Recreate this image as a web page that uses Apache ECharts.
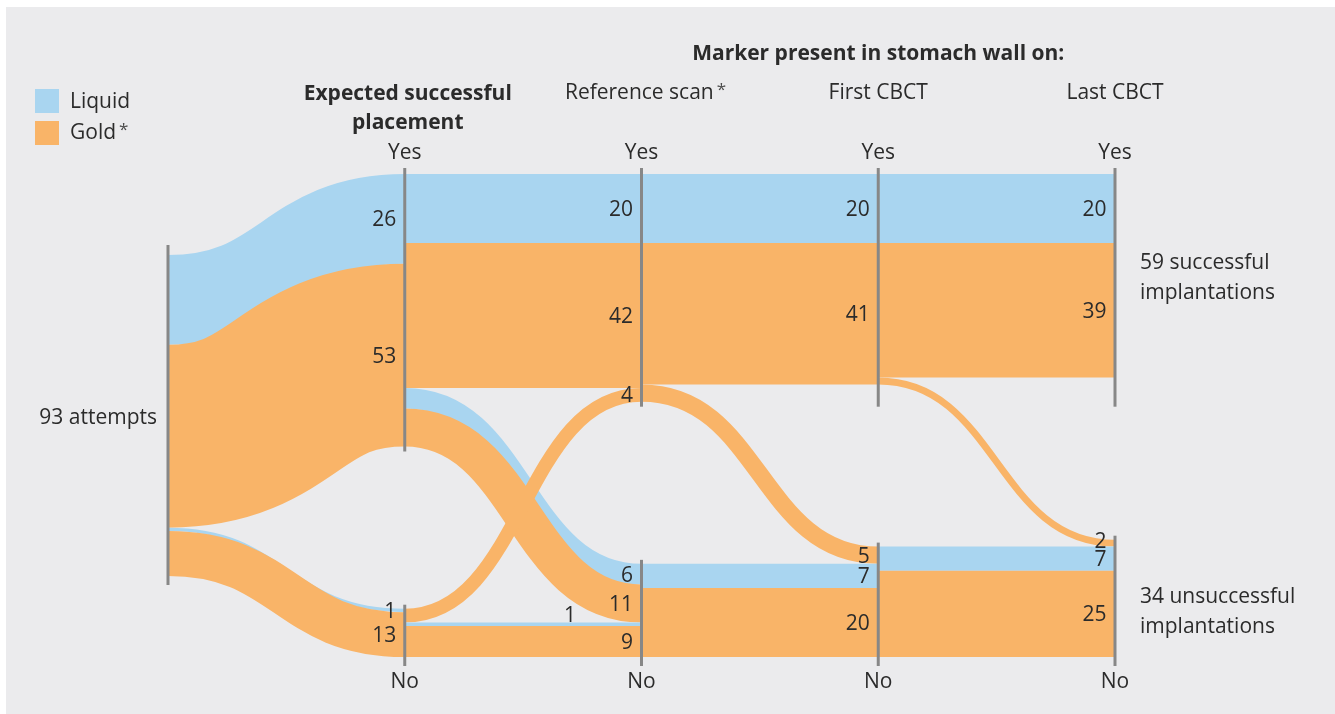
<!DOCTYPE html>
<html>
<head>
<meta charset="utf-8">
<script src="https://cdn.jsdelivr.net/npm/echarts@6/dist/echarts.min.js"></script>
<style>
html,body{margin:0;padding:0;background:#ffffff;}
#chart{width:1335px;height:714px;}
</style>
</head>
<body>
<div id="chart"></div>
<script>
// ---------------- DATA ----------------
const columnTitles = ['', 'Expected successful\nplacement', 'Reference scan', 'First CBCT', 'Last CBCT'];
const columnTitleStar = [false, false, true, false, false];
const groupTitle = 'Marker present in stomach wall on:';
const yesLabel = 'Yes';
const noLabel = 'No';
const types = ['Liquid', 'Gold'];
const typeStar = [false, true];

// nodes: 0 start, then Yes/No per column
const nodeNames  = ['Attempts', 'Expected Yes', 'Expected No', 'Reference Yes', 'Reference No', 'First Yes', 'First No', 'Last Yes', 'Last No'];
const nodeColumn = [0, 1, 1, 2, 2, 3, 3, 4, 4];
const nodeSide   = ['mid', 'yes', 'no', 'yes', 'no', 'yes', 'no', 'yes', 'no'];

// links (listed in stacking order, top to bottom at each node)
const linkSource = [0, 0, 0, 0, 1, 1, 1, 1, 2, 2, 2, 3, 3, 3, 4, 4, 5, 5, 5, 6, 6];
const linkTarget = [1, 1, 2, 2, 3, 3, 4, 4, 3, 4, 4, 5, 5, 6, 6, 6, 7, 7, 8, 8, 8];
const linkType   = [0, 1, 0, 1, 0, 1, 0, 1, 1, 0, 1, 0, 1, 1, 0, 1, 0, 1, 1, 0, 1];
const linkValue  = [26, 53, 1, 13, 20, 42, 6, 11, 4, 1, 9, 20, 41, 5, 7, 20, 20, 39, 2, 7, 25];

// ---------------- STYLE / LAYOUT ----------------
const SPAN = 140;               // vertical extent in value units
const typeColors = ['#a9d5f0', '#f9b468'];
const textColor = '#2b2b2b';
const lineColor = '#878787';
const FONT = '"Open Sans", "Noto Sans", sans-serif';
const FS = 21;
const TDY = 1.5;                // small downward text shift
const labelNudge = { 9: [-57, -9.5], 18: [0, -3] };
const starRich = { s: { fontSize: 17, fill: '#4a4a4a', verticalAlign: 'top', padding: [0, 0, 7, 3], fontFamily: FONT } };

// ---------------- LAYOUT COMPUTATION ----------------
const nIn = nodeNames.map(() => 0), nOut = nodeNames.map(() => 0);
linkValue.forEach((v, i) => { nOut[linkSource[i]] += v; nIn[linkTarget[i]] += v; });
const nodeVal = nodeNames.map((_, k) => Math.max(nIn[k], nOut[k]));
const nodeTop = nodeVal.map((v, k) => nodeSide[k] === 'yes' ? 0 : nodeSide[k] === 'no' ? SPAN - v : (SPAN - v) / 2);
const outTop = [], inTop = [];
const oc = nodeTop.slice(), ic = nodeTop.slice();
linkValue.forEach((v, i) => {
  outTop[i] = oc[linkSource[i]]; oc[linkSource[i]] += v;
  inTop[i] = ic[linkTarget[i]]; ic[linkTarget[i]] += v;
});
// crossing links get multiply blending
const crossing = linkValue.map(() => false);
for (let j = 0; j < linkValue.length; j++) {
  for (let i = 0; i < j; i++) {
    if (nodeColumn[linkSource[i]] !== nodeColumn[linkSource[j]]) continue;
    const a = outTop[i] < outTop[j], b = inTop[i] < inTop[j];
    if (a !== b) crossing[j] = true;
  }
}

function renderLink(params, api) {
  const i = params.dataIndex;
  const s = linkSource[i], t = linkTarget[i], v = linkValue[i];
  const p0 = api.coord([nodeColumn[s], outTop[i]]);
  const p0b = api.coord([nodeColumn[s], outTop[i] + v]);
  const p1 = api.coord([nodeColumn[t], inTop[i]]);
  const p1b = api.coord([nodeColumn[t], inTop[i] + v]);
  const w = p0b[1] - p0[1];
  const y0 = (p0[1] + p0b[1]) / 2, y1 = (p1[1] + p1b[1]) / 2;
  const mx = (p0[0] + p1[0]) / 2;
  return {
    type: 'bezierCurve',
    shape: { x1: p0[0], y1: y0, x2: p1[0], y2: y1, cpx1: mx, cpy1: y0, cpx2: mx, cpy2: y1 },
    style: { stroke: typeColors[linkType[i]], lineWidth: w, fill: 'none', lineCap: 'butt',
      blend: crossing[i] ? 'multiply' : 'source-over' }
  };
}

function yesBottomMax(api) {
  let m = 0;
  nodeNames.forEach((_, k) => {
    if (nodeSide[k] === 'yes' && nodeColumn[k] >= 2) m = Math.max(m, api.coord([0, nodeTop[k] + nodeVal[k]])[1]);
  });
  return m;
}

function txt(x, y, text, opt) {
  return { type: 'text', x: x, y: y + TDY,
    style: Object.assign({ text: text, fill: textColor, font: FS + 'px ' + FONT, align: 'left', verticalAlign: 'middle' }, opt || {}) };
}

function renderNode(params, api) {
  const k = params.dataIndex;
  const top = api.coord([nodeColumn[k], nodeTop[k]]);
  const bot = api.coord([nodeColumn[k], nodeTop[k] + nodeVal[k]]);
  let y0, y1;
  if (nodeSide[k] === 'mid') { y0 = top[1] - 10; y1 = bot[1] + 9; }
  else if (nodeSide[k] === 'yes') {
    y0 = top[1] - 6;
    y1 = nodeColumn[k] >= 2 ? yesBottomMax(api) + 5 : bot[1] + 5;
  } else { y0 = top[1] - 4; y1 = bot[1] + 9; }
  const children = [{
    type: 'line',
    shape: { x1: top[0], y1: y0, x2: top[0], y2: y1 },
    style: { stroke: lineColor, lineWidth: 3 }
  }];
  const mid = (top[1] + bot[1]) / 2;
  if (nodeSide[k] === 'mid') {
    children.push(txt(top[0] - 11, mid + 1.5, nodeVal[k] + ' attempts', { align: 'right' }));
  }
  if (nodeColumn[k] === 4) {
    const t = nodeSide[k] === 'yes' ? nodeVal[k] + ' successful\nimplantations' : nodeVal[k] + ' unsuccessful\nimplantations';
    const off = nodeSide[k] === 'yes' ? 1 : 12.5;
    children.push(txt(top[0] + 25, mid + off, t, { lineHeight: 30 }));
  }
  return { type: 'group', children };
}

function renderLinkLabel(params, api) {
  const i = params.dataIndex;
  const t = linkTarget[i], v = linkValue[i];
  const p = api.coord([nodeColumn[t], inTop[i] + v / 2]);
  const n = labelNudge[i] || [0, 0];
  return txt(p[0] - 8.5 + n[0], p[1] + n[1], String(v), { align: 'right' });
}

function renderColumn(params, api) {
  const c = params.dataIndex;
  const top = api.coord([c, 0]);
  const bot = api.coord([c, SPAN]);
  const children = [];
  if (c === 0) return { type: 'group', children };
  children.push(txt(top[0], top[1] - 22, yesLabel, { align: 'center' }));
  children.push(txt(top[0], bot[1] + 24, noLabel, { align: 'center' }));
  const title = columnTitles[c];
  if (c === 1) {
    children.push(txt(top[0] + 3, top[1] - 66.5, title, { align: 'center', font: 'bold ' + FS + 'px ' + FONT, lineHeight: 29 }));
  } else {
    children.push(txt(top[0] + (columnTitleStar[c] ? 4 : 0), top[1] - 82,
      title + (columnTitleStar[c] ? '{s|*}' : ''), { align: 'center', rich: starRich }));
  }
  if (c === 3) {
    children.push(txt(top[0], top[1] - 121, groupTitle, { align: 'center', font: 'bold ' + FS + 'px ' + FONT }));
  }
  return { type: 'group', children };
}

// legend graphics from types
const legendGraphics = [];
types.forEach((name, k) => {
  legendGraphics.push({ type: 'rect', zlevel: 0, z: 10, shape: { x: 35, y: 89 + k * 32, width: 24, height: 24 }, style: { fill: typeColors[k] } });
  legendGraphics.push({ type: 'text', zlevel: 0, z: 10, x: 70, y: 101 + k * 31 + TDY,
    style: { text: name + (typeStar[k] ? '{s|*}' : ''), rich: starRich,
      fill: textColor, font: FS + 'px ' + FONT, align: 'left', verticalAlign: 'middle' } });
});

const chart = echarts.init(document.getElementById('chart'), null, { renderer: 'canvas' });
chart.setOption({
  backgroundColor: '#ffffff',
  animation: false,
  graphic: [
    { type: 'rect', zlevel: 0, z: 0, shape: { x: 6, y: 7, width: 1329, height: 707 }, style: { fill: '#ebebed' } }
  ].concat(legendGraphics),
  grid: { left: 168, right: 220, top: 174, bottom: 57 },
  xAxis: { type: 'value', min: 0, max: 4, show: false },
  yAxis: { type: 'value', min: 0, max: SPAN, inverse: true, show: false },
  series: [
    { type: 'custom', zlevel: 1, z: 1, coordinateSystem: 'cartesian2d', renderItem: renderLink,
      data: linkValue.map(() => [0, 0]), silent: true },
    { type: 'custom', zlevel: 1, z: 2, coordinateSystem: 'cartesian2d', renderItem: renderNode,
      data: nodeNames.map(() => [0, 0]), silent: true },
    { type: 'custom', zlevel: 1, z: 3, coordinateSystem: 'cartesian2d', renderItem: renderLinkLabel,
      data: linkValue.map(() => [0, 0]), silent: true },
    { type: 'custom', zlevel: 1, z: 3, coordinateSystem: 'cartesian2d', renderItem: renderColumn,
      data: columnTitles.map(() => [0, 0]), silent: true }
  ]
});
</script>
</body>
</html>
